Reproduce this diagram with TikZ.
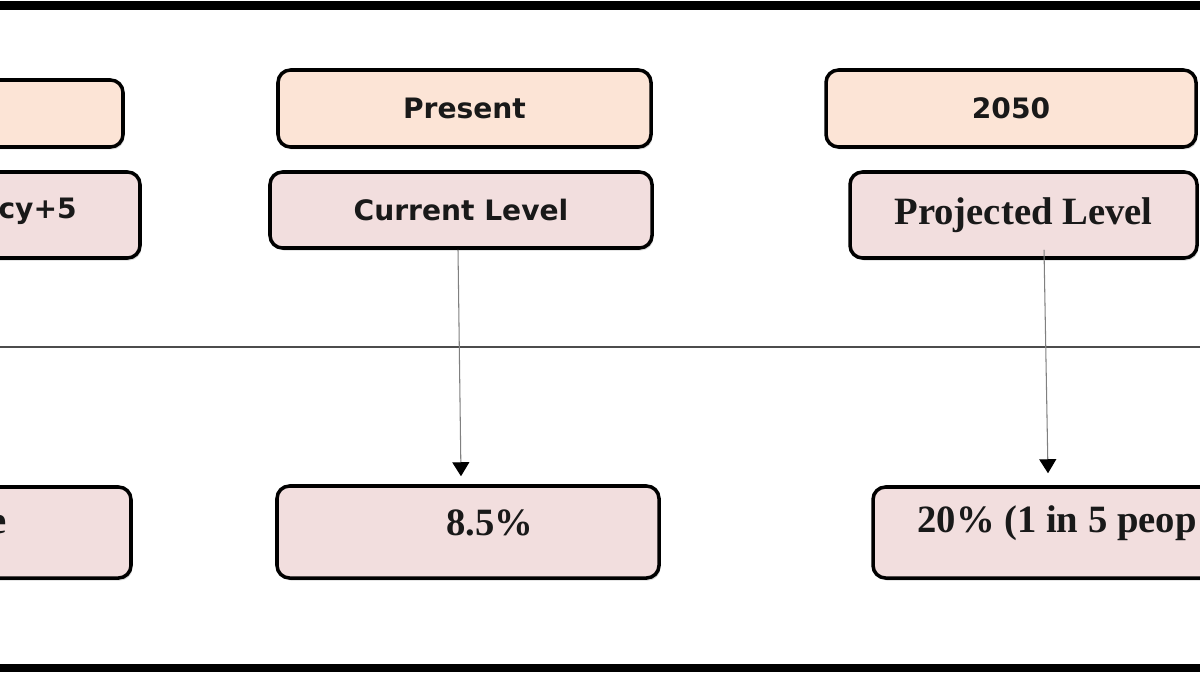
\documentclass[tikz,border=0pt]{standalone}
\usepackage{fontspec}
\usepackage{tikz}
\usetikzlibrary{arrows.meta,%
                shadows}
\newfontfamily\hdrfont{DejaVu Sans}
\newfontfamily\valfont{Liberation Serif}
\definecolor{peach}{HTML}{FCE4D6}
\definecolor{rose}{HTML}{F2DEDE}

\begin{document}
\begin{tikzpicture}
  \useasboundingbox (0,0) rectangle (24,13.5);
  \clip (0,0) rectangle (24,13.5);
  \tikzstyle{BoxStyle}=[draw=black,line width=2pt,rounded corners=0.25cm,
    drop shadow={shadow xshift=0.03cm,shadow yshift=-0.05cm,opacity=0.3}]
  \tikzstyle{YearStyle}=[BoxStyle,fill=peach,text=black!90,font=\hdrfont\bfseries\fontsize{16}{19}\selectfont]
  \tikzstyle{LevelStyle}=[BoxStyle,fill=rose,text=black!90,font=\hdrfont\bfseries\fontsize{16}{19}\selectfont]
  \tikzstyle{ValueStyle}=[BoxStyle,fill=rose]
  \tikzstyle{ValueText}=[inner sep=0pt,text=black!90,font=\valfont\bfseries\fontsize{22}{26}\selectfont]
  \tikzstyle{FlowStyle}=[draw=gray,line width=0.6pt,-{Triangle[length=0.28cm,width=0.34cm,color=black]}]
  % frame
  \coordinate (topL) at (0,13.39);
  \coordinate (topR) at (24,13.39);
  \coordinate (botL) at (0,0.14);
  \coordinate (botR) at (24,0.14);
  \draw [line width=0.17cm] (topL) -- (topR);
  \draw [line width=0.17cm] (botL) -- (botR);
  % divider
  \coordinate (divL) at (0,6.56);
  \coordinate (divR) at (24,6.56);
  \draw [black!70,line width=0.8pt] (divL) -- (divR);
  % year row
  \node[YearStyle,minimum width=7.4cm,minimum height=1.34cm] (yr_0) at (-1.24,11.23) {};
  \node[YearStyle,minimum width=7.46cm,minimum height=1.54cm] (yr_1) at (9.29,11.33) {Present};
  \node[YearStyle,minimum width=7.4cm,minimum height=1.54cm] (yr_2) at (20.22,11.33) {2050};
  % level row
  \node[LevelStyle,minimum width=7cm,minimum height=1.72cm] (lv_0) at (-0.7,9.2) {};
  \node[inner sep=0pt,anchor=east,text=black!90,font=\hdrfont\bfseries\fontsize{16}{19}\selectfont] (lvtxt_0) at (1.54,9.28) {cy+5};
  \node[LevelStyle,minimum width=7.64cm,minimum height=1.52cm] (lv_1) at (9.22,9.3) {Current Level};
  \node[LevelStyle,minimum width=6.94cm,minimum height=1.72cm,font=\valfont\bfseries\fontsize{22}{26}\selectfont] (lv_2) at (20.47,9.2) {Projected Level};
  % value row
  \node[ValueStyle,minimum width=7.64cm,minimum height=1.82cm] (val_0) at (-1.2,2.85) {};
  \node[ValueText,anchor=east] (valtxt_0) at (0.14,3.0) {e};
  \node[ValueStyle,minimum width=7.64cm,minimum height=1.84cm] (val_1) at (9.36,2.86) {};
  \node[ValueText] (valtxt_1) at (9.8,3.04) {8.5\%};
  \node[ValueStyle,minimum width=7.64cm,minimum height=1.82cm] (val_2) at (21.28,2.85) {};
  \node[ValueText,anchor=west] (valtxt_2) at (18.34,3.04) {20\% (1 in 5 peop};
  % arrows
  \draw[FlowStyle] ([xshift=-0.06cm]lv_1.south) -- ([xshift=-0.14cm,yshift=0.16cm]val_1.north);
  \draw[FlowStyle] ([xshift=0.41cm,yshift=0.2cm]lv_2.south) -- ([xshift=-0.32cm,yshift=0.24cm]val_2.north);
\end{tikzpicture}
\end{document}
